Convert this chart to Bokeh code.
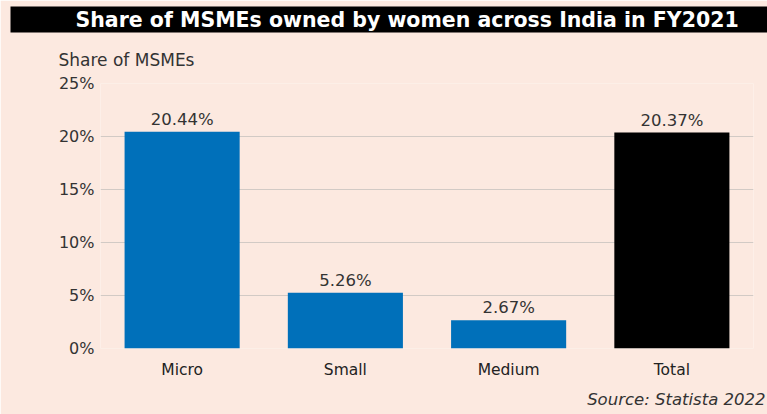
from bokeh.plotting import figure
from bokeh.models import (Range1d, FactorRange, Title, ColumnDataSource, LabelSet,
                          FixedTicker)
from bokeh.embed import file_html
from bokeh.resources import INLINE
from bokeh.core.properties import value

# ---- data ----
categories = ["Micro", "Small", "Medium", "Total"]
shares = [20.44, 5.26, 2.67, 20.37]
share_labels = ["20.44%", "5.26%", "2.67%", "20.37%"]
y_ticks = [0, 5, 10, 15, 20, 25]
y_tick_labels = ["0%", "5%", "10%", "15%", "20%", "25%"]
headline = "Share of MSMEs owned by women across India in FY2021"
y_title = "Share of MSMEs"
source_note = "Source: Statista 2022"

FONT = "DejaVu Sans"
PEACH = "#fce9e0"
BLUE = "#0070ba"
colors = [("#000000" if c == "Total" else BLUE) for c in categories]

W, H = 767, 414

src = ColumnDataSource(dict(cat=categories, share=shares, lab=share_labels, color=colors))

p = figure(width=W, height=H, x_range=FactorRange(*categories),
           y_range=Range1d(0, 25), output_backend="svg", toolbar_location=None,
           min_border_left=100, min_border_right=14, min_border_top=83,
           min_border_bottom=60)
p.background_fill_color = PEACH
p.border_fill_color = PEACH
p.outline_line_color = None

p.vbar(x="cat", top="share", width=0.705, fill_color="color", line_color=None,
       source=src)
p.add_layout(LabelSet(x="cat", y="share", text="lab", source=src, text_align="center",
                      text_baseline="bottom", y_offset=3, text_font=value(FONT),
                      text_font_size="16.5px", text_color="#333333"))

p.yaxis.ticker = FixedTicker(ticks=y_ticks)
p.yaxis.major_label_overrides = {t: l for t, l in zip(y_ticks, y_tick_labels)}
p.yaxis.axis_line_color = None
p.yaxis.major_tick_line_color = None
p.yaxis.minor_tick_line_color = None
p.yaxis.major_label_standoff = 0
p.yaxis.major_label_text_font = FONT
p.yaxis.major_label_text_font_size = "16px"
p.yaxis.major_label_text_color = "#333333"

p.xaxis.axis_line_color = None
p.xaxis.major_tick_line_color = None
p.xaxis.minor_tick_line_color = None
p.xaxis.major_label_standoff = 6
p.xaxis.major_label_text_font = FONT
p.xaxis.major_label_text_font_size = "15.5px"
p.xaxis.major_label_text_color = "#222222"

p.xgrid.grid_line_color = None
p.ygrid.ticker = FixedTicker(ticks=y_ticks)
p.ygrid.grid_line_color = "#d2cac5"
p.ygrid.grid_line_width = 1.2

# axis caption above the frame
p.add_layout(Title(text=y_title, align="left", offset=-42, standoff=27,
                   text_font=FONT, text_font_size="17px", text_font_style="normal",
                   text_color="#333333"), "above")
# black headline banner (outermost above)
p.add_layout(Title(text=headline, align="left", offset=-90, standoff=0,
                   vertical_align="top",
                   text_font=FONT, text_font_size="20.5px", text_font_style="bold",
                   text_color="white", background_fill_color="black",
                   padding=dict(left=65, right=90, top=1, bottom=1)), "above")
p.add_layout(Title(text=source_note, align="right", offset=-12, standoff=12,
                   text_font=FONT, text_font_size="16.5px", text_font_style="italic",
                   text_color="#333333"), "below")

open("out.html", "w").write(file_html(p, INLINE))
